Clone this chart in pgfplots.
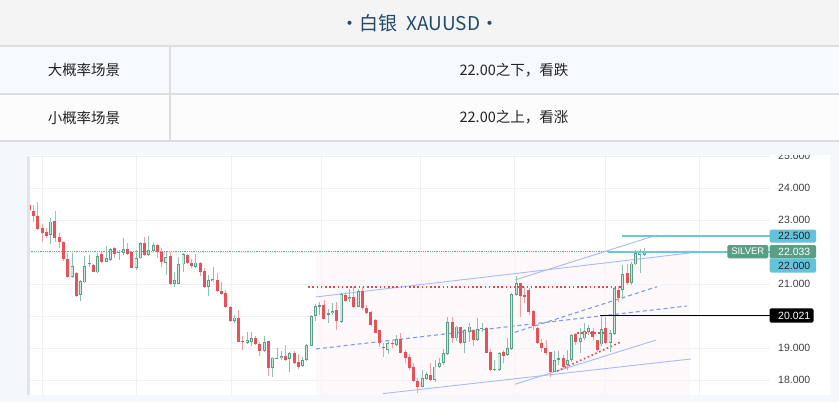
\documentclass[border=0pt]{standalone}
\usepackage{pgfplots}
\pgfplotsset{compat=1.18}
\usepackage{pgfplotstable}
\usepackage{fontspec}
\setmainfont{Liberation Sans}
\newfontfamily\cjk{Noto Sans CJK SC}
\definecolor{bgblue}{HTML}{F4F7FC}
\definecolor{titlebg}{HTML}{F4F4F4}
\definecolor{rowa}{HTML}{F6F9FD}
\definecolor{rowb}{HTML}{FCFCFC}
\definecolor{hline}{HTML}{DDDDDD}
\definecolor{titlec}{HTML}{234A6B}
\definecolor{rowtext}{HTML}{222222}
\definecolor{gridc}{HTML}{EEF0F4}
\definecolor{cred}{HTML}{E6525A}
\definecolor{wickred}{HTML}{F0A0A4}
\definecolor{cgreen}{HTML}{5C9F88}
\definecolor{cgreenlight}{HTML}{CDE6DC}
\definecolor{wickgreen}{HTML}{8CC2AE}
\definecolor{blueline}{HTML}{A8BBF5}
\definecolor{bluedash}{HTML}{7C9AF0}
\definecolor{reddot}{HTML}{E2474B}
\definecolor{cyanl}{HTML}{6CC6DD}
\definecolor{cyanbox}{HTML}{63C3DA}
\definecolor{greenbox}{HTML}{5A9E86}
\definecolor{pricedot}{HTML}{6FA895}
\definecolor{labtext}{HTML}{3C3F48}
\definecolor{pinkbg}{HTML}{FCF4F7}
\definecolor{leftbar}{HTML}{E0E3EB}

\pgfplotstableread{
i o h l c
5 22.53 23.07 22.24 22.95
10 21.23 21.96 21.18 21.57
12 20.66 21.12 20.47 21.09
13 21.05 21.86 21.02 21.57
14 21.62 21.90 21.54 21.65
16 21.36 21.98 21.33 21.87
18 21.70 22.19 21.68 21.80
19 21.75 22.13 21.72 22.08
21 21.96 22.06 21.75 22.01
22 21.96 22.43 21.91 22.08
25 21.51 22.06 21.44 21.80
26 21.80 22.32 21.78 22.27
28 21.91 22.51 21.87 22.06
29 22.03 22.27 22.01 22.22
32 21.65 21.99 21.28 21.85
34 21.00 21.39 20.92 21.13
35 21.00 21.85 20.99 21.62
36 21.61 21.96 21.36 21.93
39 21.54 21.93 21.49 21.67
42 20.92 21.28 20.64 21.13
43 21.09 21.54 21.07 21.15
48 19.84 20.03 19.77 19.95
51 19.17 19.49 19.13 19.24
52 19.20 19.49 19.07 19.30
55 18.91 19.38 18.88 19.18
57 18.39 18.73 18.10 18.70
58 18.67 19.00 18.66 18.70
59 18.68 18.91 18.62 18.75
61 18.65 18.89 18.26 18.85
64 18.44 18.71 18.40 18.63
65 18.63 19.11 18.60 19.09
66 19.07 20.03 19.06 20.01
67 20.00 20.38 19.85 20.31
68 20.29 20.45 20.03 20.34
70 20.03 20.21 19.79 20.08
71 20.08 20.40 20.03 20.16
73 19.82 20.73 19.79 20.69
75 20.52 20.83 20.45 20.58
77 20.29 20.83 20.27 20.79
84 18.94 19.25 18.81 19.15
86 19.09 19.41 19.06 19.27
92 17.79 18.31 17.77 18.05
93 18.02 18.26 18.00 18.19
95 18.00 18.62 17.95 18.42
96 18.42 18.68 18.36 18.52
97 18.52 18.96 18.47 18.83
98 18.81 19.98 18.78 19.82
100 19.30 19.69 19.23 19.67
102 19.17 19.58 18.83 19.56
103 19.51 19.77 19.20 19.67
105 19.25 19.93 19.23 19.58
106 19.58 19.77 19.51 19.63
109 18.31 18.62 18.29 18.35
110 18.31 18.88 18.29 18.85
112 18.78 19.30 18.75 18.99
113 18.97 20.73 18.94 20.69
114 20.66 21.25 20.63 21.02
123 18.26 18.91 18.24 18.63
124 18.63 18.91 18.47 18.68
126 18.47 18.94 18.31 18.63
127 18.63 19.43 18.57 19.41
129 19.20 19.61 18.83 19.30
130 19.30 19.77 19.25 19.53
131 19.51 19.72 19.41 19.61
134 19.11 19.98 19.07 19.59
136 19.15 19.56 18.88 19.46
137 19.43 20.92 19.41 20.88
139 20.81 21.59 20.53 21.30
141 21.02 21.70 20.96 21.64
142 21.61 22.06 21.58 21.96
143 21.90 22.09 21.33 22.03
144 21.92 22.13 21.88 22.04
}\upc

\pgfplotstableread{
i o h l c
0 23.47 23.50 23.26 23.30
1 23.28 23.47 22.93 23.14
2 23.11 23.55 22.70 22.72
3 22.76 22.86 22.32 22.58
4 22.64 22.74 22.43 22.51
6 22.97 23.28 22.32 22.45
7 22.48 22.58 22.11 22.30
8 22.32 22.34 21.72 21.77
9 21.77 21.96 21.20 21.23
11 21.33 21.39 20.60 20.64
15 21.59 21.64 21.36 21.39
17 21.93 22.01 21.65 21.70
20 22.11 22.17 21.80 21.93
23 22.09 22.27 21.91 21.94
24 21.99 22.03 21.49 21.51
27 22.27 22.48 21.87 21.91
30 22.22 22.24 21.82 22.01
31 22.01 22.14 21.54 21.68
33 21.88 21.99 20.97 20.99
37 21.91 21.95 21.61 21.65
38 21.65 21.78 21.49 21.57
40 21.67 21.68 21.26 21.39
41 21.41 21.51 20.89 20.92
44 21.12 21.33 20.76 20.79
45 20.79 21.05 20.66 20.69
46 20.73 20.81 20.24 20.27
47 20.29 20.31 19.82 19.84
49 19.93 20.19 19.18 19.20
50 19.22 19.39 18.94 19.19
53 19.30 19.38 19.09 19.11
54 19.11 19.18 18.76 18.91
56 19.22 19.22 18.14 18.39
60 18.76 19.09 18.60 18.62
62 18.83 18.92 18.50 18.54
63 18.57 18.81 18.33 18.40
69 20.34 20.50 19.90 19.91
72 20.19 20.45 19.56 19.85
74 20.66 20.76 20.45 20.48
76 20.60 20.92 20.24 20.29
78 20.79 20.92 20.19 20.24
79 20.24 20.34 20.06 20.08
80 20.13 20.17 19.69 19.72
81 19.87 19.90 19.46 19.48
82 19.56 19.56 19.02 19.15
83 19.04 19.17 18.73 18.99
85 19.17 19.23 18.99 19.12
87 19.27 19.46 18.83 18.85
88 18.89 18.94 18.52 18.68
89 18.73 18.81 18.31 18.38
90 18.42 18.52 17.95 17.98
91 17.98 18.05 17.58 17.79
94 18.16 18.54 17.98 18.00
99 19.82 19.98 19.17 19.30
101 19.65 19.67 19.13 19.17
104 19.56 19.58 19.06 19.25
107 19.61 19.67 18.83 18.85
108 18.88 18.96 18.29 18.31
111 18.88 18.94 18.52 18.75
115 21.02 21.04 19.98 20.62
116 20.65 20.92 20.40 20.60
117 20.81 20.86 20.03 20.12
118 20.16 20.19 19.56 19.70
119 19.63 19.67 19.12 19.15
120 19.15 19.28 18.89 19.01
121 19.01 19.25 18.78 18.83
122 18.86 18.89 18.10 18.26
125 18.70 18.78 18.36 18.42
128 19.43 19.46 19.09 19.20
132 19.53 19.61 19.25 19.35
133 19.25 19.25 18.88 18.94
135 19.61 19.98 19.12 19.15
138 20.80 20.95 20.45 20.55
140 21.33 21.61 20.98 21.02
}\dnc

\pgfplotsset{candle/.style={only marks, mark=*, mark size=0pt, mark options={draw=none, fill=none}, forget plot,
  error bars/.cd, y dir=plus, y explicit, error mark=none}}

\begin{document}
\begin{tikzpicture}[x=1pt,y=1pt]
\useasboundingbox (0,0) rectangle (839,-402);
% page backgrounds
\fill[bgblue] (0,0) rectangle (839,-402);
\fill[titlebg] (0,0) rectangle (839,-46);
\fill[rowa] (0,-46) rectangle (839,-94);
\fill[rowb] (0,-94) rectangle (839,-141);
\draw[hline, line width=1.2pt] (0,-46) -- (839,-46);
\draw[hline, line width=1.2pt] (0,-94) -- (839,-94);
\draw[hline, line width=1.2pt] (0,-141) -- (839,-141);
\draw[hline, line width=1.2pt] (170,-46) -- (170,-141);
\node[text=titlec, inner sep=0pt] at (420,-23) {\cjk\fontsize{19}{22}\selectfont •白银\ \ XAUUSD•};
\node[text=rowtext, inner sep=0pt] at (84,-70) {\cjk\fontsize{14.5}{17}\selectfont 大概率场景};
\node[text=rowtext, inner sep=0pt] at (84,-117.5) {\cjk\fontsize{14.5}{17}\selectfont 小概率场景};
\node[text=rowtext, inner sep=0pt] at (514,-70) {\cjk\fontsize{14.5}{17}\selectfont 22.00之下，看跌};
\node[text=rowtext, inner sep=0pt] at (514,-117.5) {\cjk\fontsize{14.5}{17}\selectfont 22.00之上，看涨};
% chart panel
\fill[white] (27,-155) rectangle (830,-395);
\begin{axis}[
  at={(27pt,-395pt)}, anchor=south west,
  scale only axis, width=743pt, height=240pt,
  xmin=-0.54, xmax=173.46, ymin=17.531, ymax=25.031,
  axis line style={draw=none},
  xtick={3,25,47.2,68.5,91.5,113.7,134.8,156.8},
  ytick={18,19,20,21,22,23,24,25},
  xticklabels={}, yticklabels={},
  major tick length=0pt,
  grid=major, grid style={color=gridc, line width=0.7pt},
  clip=true,
]
% shaded zone
\addplot[fill=pinkbg, fill opacity=0.6, draw=none, forget plot] coordinates {(67.1,17.4) (67.1,22.06) (154.7,22.06) (154.7,17.4)} -- cycle;
% price line
\addplot[pricedot, densely dotted, line width=0.8pt, forget plot] coordinates {(-0.54,22.033) (173.46,22.033)};
% channel lines
\addplot[blueline, line width=0.9pt, forget plot] coordinates {(67.1,20.594) (154.7,21.969)};
\addplot[blueline, line width=0.9pt, forget plot] coordinates {(113.7,21.125) (147.0,22.531)};
\addplot[blueline, line width=0.9pt, forget plot] coordinates {(82.8,17.575) (154.9,18.656)};
\addplot[blueline, line width=0.9pt, forget plot] coordinates {(113.7,17.866) (146.8,19.25)};
\addplot[bluedash, dash pattern=on 4pt off 3pt, line width=1.1pt, forget plot] coordinates {(67.1,18.969) (154.0,20.3125)};
\addplot[bluedash, dash pattern=on 4pt off 3pt, line width=1.1pt, forget plot] coordinates {(113.7,19.49) (147.0,20.916)};
\addplot[reddot, dash pattern=on 1.6pt off 2.6pt, line width=1.6pt, forget plot] coordinates {(65.3,20.90) (138.8,20.90)};
\addplot[reddot, dash pattern=on 1.6pt off 2.6pt, line width=1.6pt, forget plot] coordinates {(123.6,18.28) (138.8,19.203)};
\addplot[reddot, dash pattern=on 1.6pt off 2.6pt, line width=1.6pt, forget plot] coordinates {(128.3,19.46) (134.8,19.46)};
% candles: wicks
\addplot[candle, error bar style={color=wickred, line width=0.8pt}]
  table[x=i, y=l, y error expr=\thisrow{h}-\thisrow{l}] {\dnc};
\addplot[candle, error bar style={color=wickgreen, line width=0.8pt}]
  table[x=i, y=l, y error expr=\thisrow{h}-\thisrow{l}] {\upc};
% candles: bodies
\addplot[candle, error bar style={color=cred, line width=3pt}]
  table[x=i, y=c, y error expr={max(\thisrow{o}-\thisrow{c},0.03)}] {\dnc};
\addplot[candle, error bar style={color=cgreen, line width=3pt}]
  table[x=i, y=o, y error expr={max(\thisrow{c}-\thisrow{o},0.03)}] {\upc};
\addplot[candle, error bar style={color=cgreenlight, line width=1.2pt}]
  table[x=i, y expr=\thisrow{o}+0.028, y error expr={max(\thisrow{c}-\thisrow{o}-0.056,0)}] {\upc};
% horizontal levels
\addplot[cyanl, line width=1.4pt, forget plot] coordinates {(138.8,22.5) (173.46,22.5)};
\addplot[cyanl, line width=2.2pt, forget plot] coordinates {(135.5,22.0) (173.46,22.0)};
\addplot[black, line width=1.5pt, forget plot] coordinates {(133.6,20.021) (173.46,20.021)};
\end{axis}
% left bar
\fill[leftbar] (27,-157) rectangle (29.5,-395);
% price scale labels
\begin{scope}
\clip (27,-155) rectangle (830,-395);
\node[anchor=west, inner sep=0pt, text=labtext] at (778,-156) {\fontsize{10.5}{12}\selectfont 25.000};
\end{scope}
\foreach \p/\yy in {24.000/188, 23.000/220, 21.000/284, 19.000/348, 18.000/380}{
  \node[anchor=west, inner sep=0pt, text=labtext] at (778,-\yy) {\fontsize{10.5}{12}\selectfont \p};
}
\fill[cyanbox, rounded corners=1.5pt] (769.5,-229.5) rectangle (816,-242.5);
\node[anchor=west, inner sep=0pt, text=rowtext] at (778,-236) {\fontsize{10.5}{12}\selectfont 22.500};
\fill[greenbox, rounded corners=1.5pt] (769.5,-245) rectangle (816,-258.3);
\node[anchor=west, inner sep=0pt, text=white] at (778,-251.6) {\fontsize{10.5}{12}\selectfont 22.033};
\fill[cyanbox, rounded corners=1.5pt] (769.5,-258.3) rectangle (816,-272.5);
\node[anchor=west, inner sep=0pt, text=rowtext] at (778,-265.4) {\fontsize{10.5}{12}\selectfont 22.000};
\fill[greenbox, rounded corners=1.5pt] (727.3,-245) rectangle (768.3,-258.3);
\node[inner sep=0pt, text=white] at (747.8,-251.6) {\fontsize{9.5}{11}\selectfont SILVER};
\fill[black, rounded corners=1.5pt] (769.5,-308.3) rectangle (813.5,-322.7);
\node[anchor=west, inner sep=0pt, text=white] at (778,-315.5) {\fontsize{10.5}{12}\selectfont 20.021};
\end{tikzpicture}
\end{document}
